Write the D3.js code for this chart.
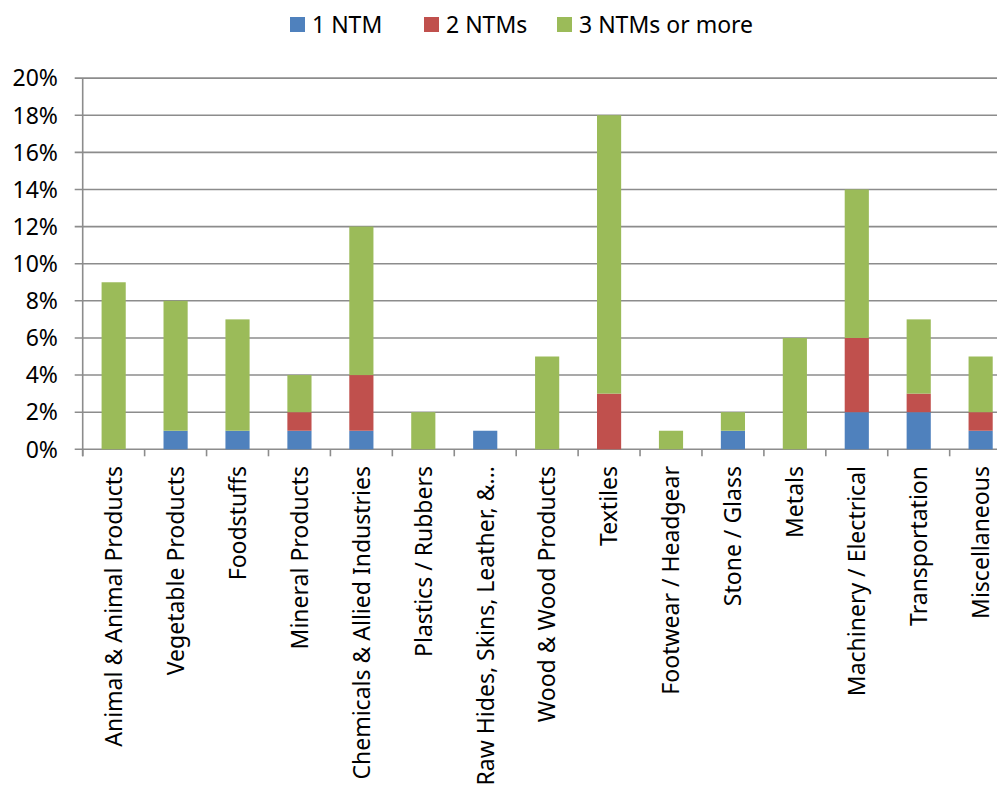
<!DOCTYPE html>
<html>
<head>
<meta charset="utf-8">
<script src="https://cdn.jsdelivr.net/npm/d3@7"></script>
<style>
  body { margin: 0; background: #fff; }
  text { font-family: "Noto Sans", "Open Sans", sans-serif; fill: #000; }
</style>
</head>
<body>
<div id="chart"></div>
<script>
// categories and series (percent of tariff lines)
var categories = ["Animal & Animal Products", "Vegetable Products", "Foodstuffs", "Mineral Products",
  "Chemicals & Allied Industries", "Plastics / Rubbers", "Raw Hides, Skins, Leather, &...",
  "Wood & Wood Products", "Textiles", "Footwear / Headgear", "Stone / Glass", "Metals",
  "Machinery / Electrical", "Transportation", "Miscellaneous"];
var oneNTM   = [0, 1, 1, 1, 1, 0, 1, 0, 0, 0, 1, 0, 2, 2, 1];
var twoNTMs  = [0, 0, 0, 1, 3, 0, 0, 0, 3, 0, 0, 0, 4, 1, 1];
var threeNTMs = [9, 7, 6, 2, 8, 2, 0, 5, 15, 1, 1, 6, 8, 4, 3];
var seriesNames = ["1 NTM", "2 NTMs", "3 NTMs or more"];
var yTicks = [0, 2, 4, 6, 8, 10, 12, 14, 16, 18, 20];

var colors = ["#4F81BD", "#C0504D", "#9BBB59"];

var W = 997, H = 785;
var plotLeft = 82.7, plotRight = 1011.6, plotTop = 78.1, plotBottom = 449.3;

var svg = d3.select("#chart").append("svg")
  .attr("width", W)
  .attr("height", H);

// table for the stack layout
var table = categories.map(function(c, i) {
  return { cat: c, s0: oneNTM[i], s1: twoNTMs[i], s2: threeNTMs[i] };
});
var stack = d3.stack().keys(["s0", "s1", "s2"])(table);

var x = d3.scaleBand()
  .domain(categories)
  .range([plotLeft, plotRight])
  .paddingInner(0.61)
  .paddingOuter(0.305);

var y = d3.scaleLinear()
  .domain([0, 20])
  .range([plotBottom, plotTop]);

var gridColor = "#8C8C8C";

// horizontal gridlines
svg.append("g")
  .selectAll("line")
  .data(yTicks)
  .enter().append("line")
    .attr("x1", plotLeft - 8)
    .attr("x2", W)
    .attr("y1", function(d) { return y(d); })
    .attr("y2", function(d) { return y(d); })
    .style("stroke", gridColor)
    .style("stroke-width", 1.6);

// y tick labels
svg.append("g")
  .selectAll("text")
  .data(yTicks)
  .enter().append("text")
    .attr("x", 58)
    .attr("y", function(d) { return y(d); })
    .attr("dy", "0.36em")
    .attr("text-anchor", "end")
    .style("font-size", "23px")
    .text(function(d) { return d + "%"; });

// y axis line
svg.append("line")
  .attr("x1", plotLeft).attr("x2", plotLeft)
  .attr("y1", plotTop).attr("y2", plotBottom + 7)
  .style("stroke", gridColor)
  .style("stroke-width", 1.6);

// bars
svg.append("g")
  .selectAll("g")
  .data(stack)
  .enter().append("g")
    .style("fill", function(d, i) { return colors[i]; })
  .selectAll("rect")
  .data(function(d) { return d; })
  .enter().append("rect")
    .attr("x", function(d) { return x(d.data.cat); })
    .attr("width", x.bandwidth())
    .attr("y", function(d) { return y(d[1]); })
    .attr("height", function(d) { return y(d[0]) - y(d[1]); });

// x axis ticks at category boundaries
var half = (x.step() - x.bandwidth()) / 2;
svg.append("g")
  .selectAll("line")
  .data(categories)
  .enter().append("line")
    .attr("x1", function(d) { return x(d) - half; })
    .attr("x2", function(d) { return x(d) - half; })
    .attr("y1", plotBottom)
    .attr("y2", plotBottom + 7)
    .style("stroke", gridColor)
    .style("stroke-width", 1.6);

// x category labels
svg.append("g")
  .selectAll("text")
  .data(categories)
  .enter().append("text")
    .attr("transform", function(d) {
      return "translate(" + (x(d) + x.bandwidth() / 2) + "," + 466 + ") rotate(-90)";
    })
    .attr("dy", "0.36em")
    .attr("text-anchor", "end")
    .style("font-size", "23px")
    .text(function(d) { return d; });

// legend
var legendX = [290, 424, 557];
var legend = svg.append("g")
  .selectAll("g")
  .data(seriesNames)
  .enter().append("g")
    .attr("transform", function(d, i) { return "translate(" + legendX[i] + ",17)"; });
legend.append("rect")
  .attr("width", 15)
  .attr("height", 15)
  .style("fill", function(d, i) { return colors[i]; });
legend.append("text")
  .attr("x", 22)
  .attr("y", 7.5)
  .attr("dy", "0.36em")
  .style("font-size", "23px")
  .text(function(d) { return d; });
</script>
</body>
</html>
